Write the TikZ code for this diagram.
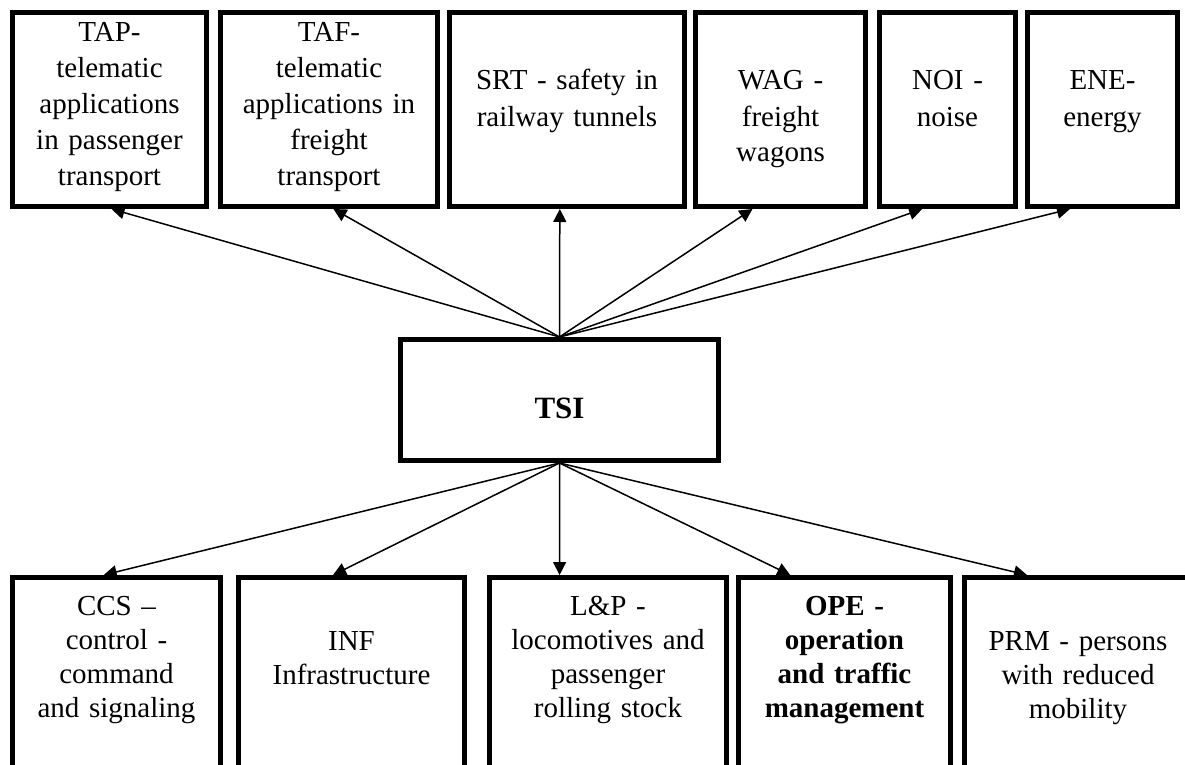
\documentclass[tikz,border=0pt]{standalone}
\usepackage{fontspec}
\setmainfont{Liberation Serif}
\usetikzlibrary{arrows.meta,calc}

\tikzset{
  spec/.style={draw, line width=5pt, inner sep=0pt, align=center, anchor=north west,
    text width=#1, font=\fontsize{29}{36}\selectfont},
  tspec/.style={spec=#1, text height=29.5pt, text depth=164.5pt},
  tspecdown/.style={spec=#1, text height=77.5pt, text depth=116.5pt},
  bspec/.style={spec=#1, text height=37.5pt, text depth=182.5pt, font=\fontsize{29}{34}\selectfont},
  bspecdown/.style={spec=#1, text height=72.5pt, text depth=147.5pt, font=\fontsize{29}{34}\selectfont},
  link/.style={>={Triangle[length=13pt,width=13pt]}, line width=1.5pt}
}

\begin{document}
\begin{tikzpicture}[x=1pt, y=-1pt]
  \useasboundingbox (0,0) rectangle (1185,765);
  \clip (0,0) rectangle (1185,765);
  % upper row
  \node[tspec=194pt] (tap) at (10,10) {TAP-\\telematic\\applications\\in passenger\\transport};
  \node[tspec=217pt] (taf) at (218,10) {TAF-\\telematic\\applications in\\freight\\transport};
  \node[tspecdown=235pt] (srt) at (447,10) {SRT - safety in\\railway tunnels};
  \node[tspecdown=170pt] (wag) at (693,10) {WAG -\\freight\\wagons};
  \node[tspecdown=136pt] (noi) at (877,10) {NOI -\\noise};
  \node[tspecdown=150pt] (ene) at (1025,10) {ENE-\\energy};
  % centre
  \node[spec=318pt, text height=78.5pt, text depth=42.5pt,
    font=\fontsize{31}{37}\selectfont\bfseries] (tsi) at (398,337) {TSI};
  % lower row
  \node[bspec=208pt] (ccs) at (10,575) {CCS –\\control -\\command\\and signaling};
  \node[bspecdown=226pt] (inf) at (236,575) {INF\\Infrastructure};
  \node[bspec=237pt] (lp) at (487,575) {L\&P -\\locomotives and\\passenger\\rolling stock};
  \node[bspec=212pt, font=\fontsize{29}{34}\selectfont\bfseries] (ope) at (736,575)
    {OPE -\\operation\\and traffic\\management};
  \node[bspecdown=227pt] (prm) at (962,575) {PRM - persons\\with reduced\\mobility};

  \path[link, ->]
  (tsi.north) edge ($(tap.south west)!.51!(tap.south east)$)
  (tsi.north) edge ($(taf.south west)!.52!(taf.south east)$)
  (tsi.north) edge ($(srt.south west)!.47!(srt.south east)$)
  (tsi.north) edge ($(wag.south west)!.34!(wag.south east)$)
  (tsi.north) edge ($(noi.south west)!.32!(noi.south east)$)
  (tsi.north) edge ($(ene.south west)!.29!(ene.south east)$)
  ;
  \path[link, ->]
  (tsi.south) edge ($(ccs.north west)!.44!(ccs.north east)$)
  (tsi.south) edge ($(inf.north west)!.42!(inf.north east)$)
  (tsi.south) edge ($(lp.north west)!.3!(lp.north east)$)
  (tsi.south) edge ($(ope.north west)!.25!(ope.north east)$)
  (tsi.south) edge ($(prm.north west)!.28!(prm.north east)$)
  ;
\end{tikzpicture}
\end{document}
